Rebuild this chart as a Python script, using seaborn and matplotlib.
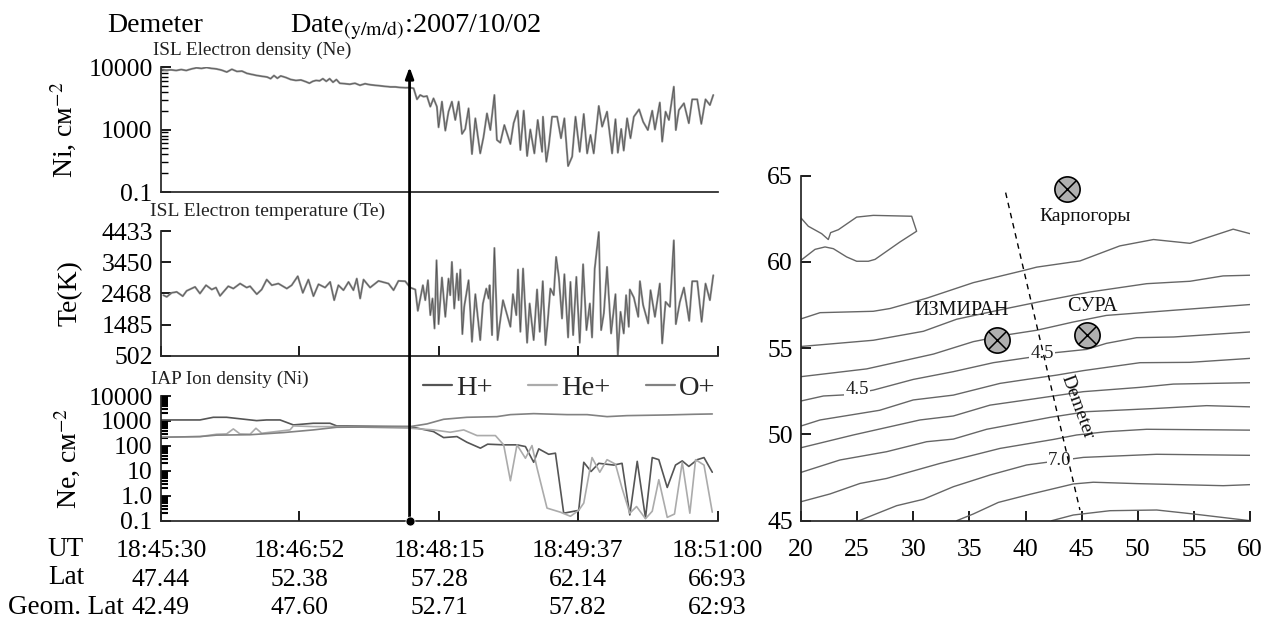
import numpy as np
import matplotlib
matplotlib.use("Agg")
import matplotlib.pyplot as plt
from matplotlib.ticker import LogLocator, NullFormatter
import seaborn as sns

# Satellite time axis, seconds after 18:45:30
time_ticks = [0, 82, 165, 247, 330]
ut_labels = ["18:45:30", "18:46:52", "18:48:15", "18:49:37", "18:51:00"]
lat_labels = ["47.44", "52.38", "57.28", "62.14", "66:93"]
geom_labels = ["42.49", "47.60", "52.71", "57.82", "62:93"]
event_time = 147.4

# Electron density
ne_time = [0, 3, 6, 9, 12, 15, 18, 21, 24, 27, 30, 33, 36, 39, 42, 45, 48, 51, 54, 57, 60, 63, 65, 67, 69, 71, 74,
           77, 80, 83, 86, 88, 90, 92, 94, 96, 98, 100, 102, 104, 106, 109, 112, 115, 118, 121, 124, 127, 130, 133,
           136, 139, 142, 145,
           147.8, 149.8, 151.8, 153.7, 155.7, 157.7, 159.7, 161.6, 163.6, 164.6, 166.6, 168.6, 170.5, 172.5, 174.5,
           176.5, 178.5, 180.4, 182.4, 184.4, 186.4, 189.3, 191.3, 193.3, 195.3, 197.7, 199.2, 201.2, 203.6, 207.2,
           209.1, 211.5, 213.1, 215.1, 217.1, 219.0, 221.4, 223.4, 226, 226.5, 228.5, 229.9, 231.9, 234.9, 237.2,
           239.2, 241.4, 243.8, 245.8, 248.3, 250.7, 252.7, 254.7, 256.6, 259.6, 261.6, 264.5, 267.5, 269.5, 270.9,
           272.9, 274.4, 276.4, 278.4, 280.4, 283.5, 285.9, 288.7, 291.3, 292.9, 295.8, 297.2, 299.2, 301.2, 304.1,
           305.3, 307.1, 310.1, 313, 315, 318, 320.4, 322.9, 325.5, 327.5]
ne_values = [9200, 8900, 9000, 8800, 9100, 8800, 9300, 9700, 9500, 9800, 9500, 9300, 8900, 8300, 9200, 8500, 8600,
             7900, 7600, 7300, 7100, 6900, 6500, 7300, 6600, 7200, 6800, 6300, 6100, 6200, 5800, 5500, 5900, 6100,
             6000, 6500, 5900, 6500, 5700, 6300, 5500, 5400, 5300, 5500, 5100, 5400, 5200, 5100, 5000, 4900, 4800,
             4800, 4700, 4650,
             4670, 4560, 3040, 3565, 3350, 3430, 2320, 3150, 2320, 1085, 2790, 960, 1930, 2790, 1420, 2790, 850,
             1020, 2180, 405, 1510, 415, 770, 1810, 980, 3565, 680, 615, 1180, 585, 1260, 2000, 470, 2000, 377,
             1000, 415, 1420, 440, 1600, 305, 530, 1600, 1600, 725, 1510, 260, 367, 1600, 440, 1770, 415, 820, 415,
             2380, 1110, 1930, 415, 1460, 425, 1020, 460, 1510, 725, 1600, 2100, 1330, 980, 2000, 1000, 2700, 640,
             1930, 1420, 4840, 980, 2050, 2630, 1260, 3040, 3040, 1230, 3040, 2460, 3565]

# Electron temperature
te_time = [1.4, 3.4, 6.3, 9.3, 12.9, 15.2, 20.2, 23.1, 26.7, 30.1, 32.6, 35, 39.9, 42.9, 46.9, 50.8, 52.8, 56.8,
           59.7, 62.7, 65.7, 69.6, 74.6, 77.5, 81.1, 84.1, 87.4, 90.4, 93.4, 97.3, 100.3, 102.7, 105.2, 108.2,
           111.2, 114.1, 116.1, 118.1, 120.1, 124, 129, 134.9, 137.9, 140.8, 144.8,
           147.8, 150.8, 152.3, 155.3, 156.7, 158.3, 159.7, 161.0, 162.2, 163.4, 164.6, 166.6, 168.6, 170.5, 171.5,
           172.5, 173.9, 175.5, 176.5, 177.5, 178.7, 179.8, 182.4, 184.4, 186.4, 189.3, 190.9, 192.9, 194.3, 194.9,
           196.3, 197.7, 199.6, 202.8, 207.2, 208.7, 210.7, 211.7, 213.1, 214.7, 217.1, 218.6, 221, 223, 224.6,
           226.4, 228, 229.3, 230.9, 232.9, 234.3, 235.9, 237.8, 239.2, 241.4, 242.8, 244.4, 246.3, 248.3, 250.3,
           252.3, 254.3, 255.6, 257.2, 259.6, 261, 262.6, 264.5, 266.9, 269.5, 270.9, 272.5, 274.4, 275.8, 277.4,
           278, 280.4, 283, 284, 285.9, 288.9, 290.3, 292.9, 295.8, 297.2, 299.2, 301.8, 304.1, 305.3, 307.7, 310.1,
           313.2, 315, 318, 320.6, 322.9, 325.5, 327.5]
te_values = [2409, 2357, 2483, 2514, 2378, 2546, 2671, 2462, 2724, 2588, 2650, 2388, 2692, 2619, 2776, 2650, 2692,
             2441, 2588, 2902, 2724, 2776, 2619, 2724, 3007, 2483, 2902, 2378, 2755, 2650, 2828, 2252, 2724, 2567,
             2828, 2567, 2933, 2305, 2902, 2650, 2860, 2776, 2567, 2860, 2850,
             2650, 2588, 1917, 2724, 2252, 2881, 1781, 2305, 1361, 3510, 1498, 2965, 1728, 2933, 2409, 3457, 1990,
             3091, 2252, 3216, 1183, 2043, 2881, 942, 2441, 995, 2147, 2619, 2305, 2724, 1152, 3898, 995, 2252, 1414,
             2441, 1781, 3216, 1257, 3248, 911, 2147, 995, 2588, 1257, 2850, 837, 1571, 2619, 2409, 3615, 2986, 1676,
             3070, 1078, 2828, 1152, 2986, 911, 3384, 1309, 2147, 1078, 3248, 4400, 1309, 1833, 3300, 1204, 2441, 523,
             1885, 1204, 2409, 1414, 2588, 2336, 1728, 2850, 2095, 1519, 2567, 1728, 2776, 890, 2200, 2043, 4138, 1498,
             2200, 2650, 1602, 2850, 2850, 1571, 2776, 2252, 3038]

# Ion density
h_time = [0, 23.1, 31, 38.9, 56.7, 62.6, 70.6, 78.5, 90.3, 100.2, 104.2, 147.7, 161.6, 167.6, 175.5, 181.4, 189.4,
          193.7, 203.2, 211.1, 216.1, 221, 224, 229.9, 233.9, 238.8, 247.7, 250.7, 255, 259.6, 268.5, 273.4, 278,
          282.4, 287.3, 291.3, 295.2, 300.2, 305.1, 309.1, 313, 318, 322, 326.9]
h_values = [1096, 1096, 1400, 1400, 1030, 1096, 1096, 692, 807, 807, 631, 593, 374, 215, 236, 140, 81, 117, 110, 110,
            94, 22, 76, 46, 51, 0.20, 0.26, 22, 9.4, 20, 17, 20, 0.17, 24, 0.128, 34, 28, 2.15, 17, 25, 15, 28, 34, 8.8]
he_time = [0, 23.1, 33, 38.9, 42.9, 46.8, 52.8, 56.3, 59.7, 76.5, 78.5, 90.3, 104.2, 147.7, 161.6, 171.5, 179.5,
           187.4, 198.3, 203.2, 207.2, 211.1, 216.1, 220, 223, 228.9, 236.8, 242.8, 247.7, 250.7, 255.6, 260.2,
           264.5, 269.5, 273.4, 278, 282, 287.3, 291.3, 295.2, 300.2, 304.5, 309.1, 313.6, 317, 322, 326.9]
he_values = [222, 236, 293, 302, 479, 302, 293, 509, 321, 437, 631, 593, 593, 509, 437, 352, 437, 259, 259, 110, 4,
             110, 32, 103, 12.8, 0.32, 0.22, 0.15, 0.26, 0.51, 34, 8.8, 28, 18.5, 2.0, 0.20, 0.37, 0.12, 0.24, 4.4,
             0.136, 0.185, 22, 0.20, 28, 17, 0.22]
o_time = [0, 23.1, 33, 52.8, 72.5, 90.3, 104.2, 147.7, 157.7, 167.6, 181.4, 199.2, 207.2, 221, 240.8, 252.7, 264.5,
          276.4, 300.2, 316, 326.9]
o_values = [222, 236, 270, 280, 341, 437, 558, 593, 759, 1166, 1400, 1489, 1791, 1963, 1791, 1791, 1489, 1634, 1738,
            1850, 1905]

# Map: longitude / latitude of the contours
c1_lon = [20, 21.7, 26.44, 27.93, 31.2, 35.35, 39.8, 41.0, 44.86, 48.4, 51.4, 54.65, 58.5, 60]
c1_lat = [56.7, 57.06, 57.14, 57.3, 57.9, 58.8, 59.5, 59.7, 60.06, 60.93, 61.3, 61.08, 61.9, 61.64]
c2_lon = [20, 26.44, 30.9, 33.87, 38.3, 41.3, 45.75, 50.8, 54.65, 57.6, 60]
c2_lat = [55.1, 55.46, 55.98, 56.68, 57.3, 57.7, 58.26, 58.74, 58.88, 59.19, 59.23]
c3_lon = [20, 25.85, 31.8, 35.35, 38.6, 41, 44.26, 47.2, 53.2, 60]
c3_lat = [53.35, 53.8, 54.66, 55.38, 55.8, 56.04, 56.52, 56.9, 57.2, 57.53]
c4_lon = [20, 22, 24.07, 26.44, 30, 33.57, 37.13, 40.4, 42.63, 45.45, 47.2, 49.9, 53.2, 60]
c4_lat = [51.94, 52.23, 52.3, 52.57, 53.19, 53.64, 54.16, 54.47, 54.74, 54.93, 55.28, 55.61, 55.65, 55.94]
c5_lon = [20, 21.7, 27, 30, 33.57, 37.73, 40.1, 42.78, 45.15, 50.2, 54.65, 60]
c5_lat = [50.49, 50.84, 51.4, 52, 52.28, 52.96, 53.19, 53.44, 53.7, 54.16, 54.18, 54.41]
c6_lon = [20, 24.66, 30.6, 33.57, 36.84, 40.4, 45.15, 50.2, 53.17, 60]
c6_lat = [49.23, 49.97, 50.84, 51.07, 51.7, 52.03, 52.48, 52.73, 52.92, 53]
c7_lon = [20, 23.47, 27.63, 31.2, 33.57, 36.54, 42.18, 45.45, 51.69, 56.14, 60]
c7_lat = [47.8, 48.52, 49, 49.58, 49.73, 50.3, 50.99, 51.32, 51.51, 51.67, 51.6]
c8_lon = [20, 22.58, 25.26, 27.63, 32.38, 35.35, 37.73, 42.48, 44.56, 47.23, 50.8, 60]
c8_lat = [46.1, 46.55, 47.16, 47.45, 48.32, 48.8, 49.19, 49.71, 49.97, 50.16, 50.3, 50.25]
c9_lon = [25.17, 28.52, 30.9, 33.57, 36.84, 40.1, 45.15, 51.69, 60]
c9_lat = [45, 45.87, 46.24, 46.97, 47.65, 48.23, 48.67, 48.85, 48.79]
c10_lon = [33.87, 35.35, 37.58, 40.4, 44.26, 46.04, 49.9, 57.62, 60]
c10_lat = [45, 45.39, 46.06, 46.53, 47.13, 47.23, 47.15, 47.03, 47.09]
c11_lon = [42.33, 44.26, 47.53, 51.69, 54.95, 60]
c11_lat = [45, 45.33, 45.58, 45.62, 45.39, 45]
contours = [(c1_lon, c1_lat), (c2_lon, c2_lat), (c3_lon, c3_lat), (c4_lon, c4_lat), (c5_lon, c5_lat), (c6_lon, c6_lat),
            (c7_lon, c7_lat), (c8_lon, c8_lat), (c9_lon, c9_lat), (c10_lon, c10_lat), (c11_lon, c11_lat)]

coast_lon = [20, 20.65, 21.84, 22.43, 22.64, 23.33, 24.96, 26.44, 29.86, 30.3, 28.82, 26.6, 26, 24.96, 24.07, 22.88,
             22.14, 21.25, 20]
coast_lat = [62.55, 62.07, 61.64, 61.3, 61.7, 61.87, 62.6, 62.7, 62.65, 61.78, 61.16, 60.15, 60.04, 60.04, 60.29,
             60.77, 60.87, 60.73, 60.1]
track_lon = [38.23, 44.85]
track_lat = [64.02, 45.62]
station_names = ["Карпогоры", "ИЗМИРАН", "СУРА"]
station_lon = [43.7, 37.46, 45.45]
station_lat = [64.25, 55.46, 55.75]

sns.set_theme(style="ticks")
plt.rcParams["font.family"] = ["Liberation Serif", "DejaVu Serif"]
plt.rcParams["mathtext.fontset"] = "stix"
plt.rcParams["axes.linewidth"] = 1.25

W, H = 1266, 619
fig = plt.figure(figsize=(W / 100, H / 100), dpi=100)


def add_axes(left, top, right, bottom):
    ax = fig.add_axes([left / W, 1 - bottom / H, (right - left) / W, (bottom - top) / H])
    ax.spines[["top", "right"]].set_visible(False)
    ax.patch.set_alpha(0)
    return ax


ax1 = add_axes(161, 67, 717.5, 192)
ax2 = add_axes(161, 231, 717.5, 355.7)
ax3 = add_axes(161, 396, 717.5, 520.7)
ax4 = add_axes(801, 175.7, 1250, 520.7)

# Electron density
sns.lineplot(x=ne_time, y=ne_values, ax=ax1, color="#909090", linewidth=1.5, estimator=None, sort=False)
sns.lineplot(x=ne_time, y=ne_values, ax=ax1, color="#505050", linewidth=0.45, estimator=None, sort=False)
ax1.set_yscale("log")
ax1.set_ylim(100, 10000)
ax1.set_yticks([100, 1000, 10000], ["0.1", "1000", "10000"])
ax1.set_xticks([])

# Electron temperature
sns.lineplot(x=te_time, y=te_values, ax=ax2, color="#909090", linewidth=1.5, estimator=None, sort=False)
sns.lineplot(x=te_time, y=te_values, ax=ax2, color="#505050", linewidth=0.45, estimator=None, sort=False)
ax2.set_ylim(502, 4433)
ax2.set_yticks([502, 1485, 2468, 3450, 4433], ["502", "1485", "2468", "3450", "4433"])
ax2.set_xticks(time_ticks, [""] * 5)

# Ion density
sns.lineplot(x=h_time, y=h_values, ax=ax3, color="#555555", linewidth=1.2, estimator=None, label="H+")
sns.lineplot(x=he_time, y=he_values, ax=ax3, color="#ababab", linewidth=1.2, estimator=None, label="He+")
sns.lineplot(x=o_time, y=o_values, ax=ax3, color="#828282", linewidth=1.2, estimator=None, label="O+")
ax3.set_yscale("log")
ax3.set_ylim(0.1, 10000)
ax3.set_yticks([0.1, 1, 10, 100, 1000, 10000], ["0.1", "1.0", "10", "100", "1000", "10000"])
tick_labels = [f"{u}\n{a}\n{b}" for u, a, b in zip(ut_labels, lat_labels, geom_labels)]
ax3.set_xticks(time_ticks, tick_labels)
ax3.legend(loc="center left", bbox_to_anchor=(0.471, 1.064), ncol=3, frameon=False, fontsize=20.5, borderpad=0,
           borderaxespad=0, handlelength=1.02, handletextpad=0.14, columnspacing=1.25)
for leg_line in ax3.get_legend().get_lines():
    leg_line.set_linewidth(1.6)

for ax in (ax1, ax2, ax3):
    ax.set_xlim(0, 330)
for ax, minor_width in ((ax1, 1.0), (ax3, 1.5)):
    ax.yaxis.set_minor_locator(LogLocator(base=10, subs=np.arange(2, 10), numticks=12))
    ax.yaxis.set_minor_formatter(NullFormatter())
    ax.tick_params(axis="y", which="minor", direction="in", length=5, width=minor_width, color="black")
for ax in (ax1, ax2, ax3, ax4):
    ax.tick_params(axis="both", which="major", direction="in", length=7.5, width=1.25, labelsize=18.5, color="black",
                   labelcolor="black", pad=6)
ax3.tick_params(axis="x", which="major", pad=14)
for lbl in ax3.get_xticklabels():
    lbl.set_linespacing(1.38)

ax1.set_ylabel("Ni, см$^{-2}$", fontsize=20, color="black", labelpad=0)
ax2.set_ylabel("Te(K)", fontsize=20, color="black", labelpad=0)
ax3.set_ylabel("Ne, см$^{-2}$", fontsize=20, color="black", labelpad=0)
ax1.yaxis.set_label_coords(-82 / 556.5, 0.5)
ax2.yaxis.set_label_coords(-78 / 556.5, 0.5)
ax3.yaxis.set_label_coords(-78 / 556.5, 0.5)

# Panel titles
ax1.text(-8 / 556.5, 17 / 125 + 1, "ISL Electron density (Ne)", fontsize=13.9, color="#222222", transform=ax1.transAxes,
         va="center")
ax2.text(-11 / 556.5, 20 / 125 + 1, "ISL Electron temperature (Te)", fontsize=14, color="#222222",
         transform=ax2.transAxes, va="center")
ax3.text(-10 / 556.5, 17 / 125 + 1, "IAP Ion density (Ni)", fontsize=13.9, color="#222222", transform=ax3.transAxes,
         va="center")
fig.text(107 / W, 1 - 25 / H, "Demeter", fontsize=20, color="black", va="center")
fig.text(290 / W, 1 - 27 / H, r"Date$_{\mathrm{(y/m/d)}}$:2007/10/02", fontsize=20.3, color="black", va="center")

# Row titles beside the time axis
for row_y, row_name in zip([549, 578, 607], ["UT", "Lat", "Geom. Lat"]):
    fig.text(66 / W, 1 - row_y / H, row_name, fontsize=19.5, color="black", ha="center", va="center")

# Event marker through all three panels
ax3.annotate("", xy=(event_time, 1.0), xycoords=ax1.get_xaxis_transform(), xytext=(event_time, 0),
             textcoords=ax3.get_xaxis_transform(),
             arrowprops=dict(arrowstyle="-|>,head_length=0.55,head_width=0.2", color="black", lw=2.0,
                             shrinkA=0, shrinkB=0), annotation_clip=False, zorder=10)
sns.scatterplot(x=[event_time], y=[0.1], ax=ax3, color="black", s=42, clip_on=False, zorder=11, legend=False)

# Map
for lon, lat in contours:
    sns.lineplot(x=lon, y=lat, ax=ax4, color="#666666", linewidth=1.0, estimator=None, sort=False)
sns.lineplot(x=coast_lon, y=coast_lat, ax=ax4, color="#666666", linewidth=1.0, estimator=None, sort=False)
ax4.plot(track_lon, track_lat, color="black", linewidth=1.0, linestyle=(0, (4, 3.5)), zorder=4)
sns.scatterplot(x=station_lon, y=station_lat, ax=ax4, color="#b0b0b0", edgecolor="black", linewidth=1.2, s=330,
                zorder=5, legend=False, clip_on=False)
sns.scatterplot(x=station_lon, y=station_lat, ax=ax4, color="black", marker="x", linewidth=1.1, s=160, zorder=6,
                legend=False, clip_on=False)
ax4.set_xlim(20, 60)
ax4.set_ylim(45, 65)
ax4.set_xticks(range(20, 61, 5))
ax4.set_yticks(range(45, 66, 5))
ax4.tick_params(axis="x", pad=13)

for name, lon, lat, size in zip(station_names, [45.3, 34.34, 46.0], [62.66, 57.2, 57.4], [14, 14.5, 14.5]):
    ax4.text(lon, lat, name, fontsize=size, color="#111111", ha="center", va="center", zorder=7)
for lon, lat, value in [(25, 52.6, "4.5"), (41.5, 54.7, "4.5"), (43.07, 48.48, "7.0")]:
    ax4.text(lon, lat, value, fontsize=13.5, color="#222222", ha="center", va="center", zorder=3,
             bbox=dict(facecolor="white", edgecolor="none", pad=1))
ax4.text(44.6, 51.6, "Demeter", fontsize=14, color="#111111", rotation=-70, ha="center", va="center", zorder=7)

fig.savefig("out.png", dpi=100)
